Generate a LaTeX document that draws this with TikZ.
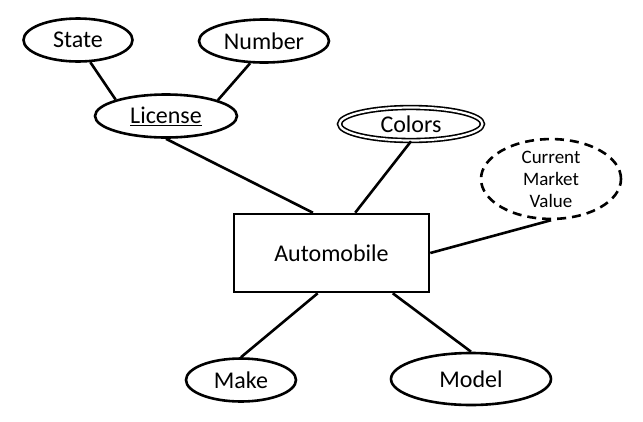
\documentclass[tikz,border=0pt]{standalone}
\usepackage{fontspec}
\setmainfont{Carlito}
\usetikzlibrary{shapes.geometric,calc}
\begin{document}
\begin{tikzpicture}[x=1pt,y=-1pt,
  attr/.style={draw,ellipse,inner sep=0pt,line width=2.6pt,font=\fontsize{24}{26}\selectfont},
  ent/.style={draw,rectangle,inner sep=0pt,line width=2.6pt,minimum width=195pt,minimum height=78pt,font=\fontsize{24}{26}\selectfont},
  multi/.style={attr,double,line width=1.6pt,double distance=2.2pt},
  derived/.style={attr,dash pattern=on 9pt off 6pt,font=\fontsize{19}{22}\selectfont,align=center},
  link/.style={line width=2.6pt}]
\useasboundingbox (0,0) rectangle (643,421);
\node[ent] (auto) at (331.5,253) {Automobile};
\node[attr,minimum width=109pt,minimum height=43pt] (state) at (78,40) {State};
\node[attr,minimum width=130pt,minimum height=43pt] (number) at (264,41) {Number};
\node[attr,minimum width=142pt,minimum height=43pt] (license) at (166,116) {\underline{License}};
\node[multi,minimum width=143pt,minimum height=33pt] (colors) at (411,124) {Colors};
\node[derived,minimum width=140pt,minimum height=76pt] (cmv) at (551,179) {Current\\Market\\Value};
\node[attr,minimum width=110pt,minimum height=43pt] (make) at (241,380) {Make};
\node[attr,minimum width=160pt,minimum height=52pt] (model) at (471,379) {Model};
\draw[link] (state.-61) -- (license.162);
\draw[link] (number.-122) -- (license.17);
\draw[link] (license.south) -- ($(auto.north west)!0.406!(auto.north east)$);
\draw[link] (colors.south) -- ($(auto.north west)!0.62!(auto.north east)$);
\draw[link] (cmv.south) -- (auto.east);
\draw[link] ($(auto.south west)!0.43!(auto.south east)$) -- (make.north);
\draw[link] ($(auto.south west)!0.81!(auto.south east)$) -- (model.north);
\end{tikzpicture}
\end{document}
